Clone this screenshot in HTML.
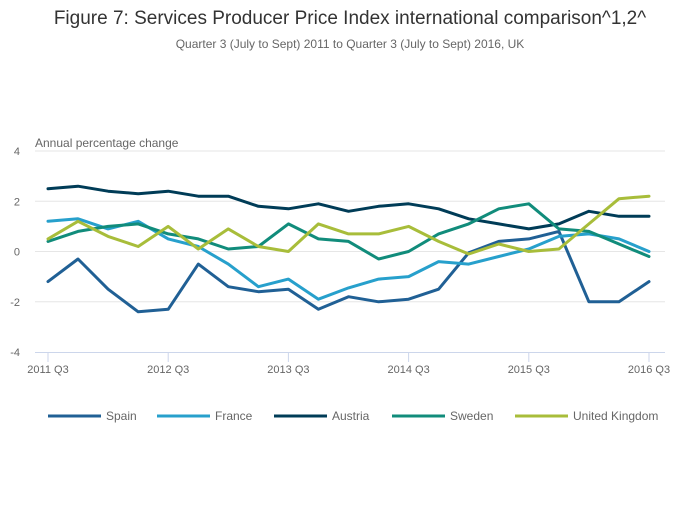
<!DOCTYPE html>
<html><head><meta charset="utf-8"><style>
body{margin:0;background:#fff;font-family:"Liberation Sans",sans-serif}
svg text{font-family:"Liberation Sans",sans-serif}
</style></head><body>
<svg id="chart" width="700" height="502" xmlns="http://www.w3.org/2000/svg">
<text x="350" y="24" text-anchor="middle" font-size="19" fill="#333">Figure 7: Services Producer Price Index international comparison^1,2^</text>
<text x="350" y="48" text-anchor="middle" font-size="12" fill="#666">Quarter 3 (July to Sept) 2011 to Quarter 3 (July to Sept) 2016, UK</text>
<text x="35" y="147" font-size="12" fill="#666">Annual percentage change</text>
<g id="grid"></g><g id="series"></g><g id="legend"></g>
</svg>
<script>
const categories=["2011 Q3","2011 Q4","2012 Q1","2012 Q2","2012 Q3","2012 Q4","2013 Q1","2013 Q2","2013 Q3","2013 Q4","2014 Q1","2014 Q2","2014 Q3","2014 Q4","2015 Q1","2015 Q2","2015 Q3","2015 Q4","2016 Q1","2016 Q2","2016 Q3"];
const xTickLabels=["2011 Q3","2012 Q3","2013 Q3","2014 Q3","2015 Q3","2016 Q3"];
const yTicks=[4,2,0,-2,-4];
const seriesNames=["Spain","France","Austria","Sweden","United Kingdom"];
const spain=[-1.2,-0.3,-1.5,-2.4,-2.3,-0.5,-1.4,-1.6,-1.5,-2.3,-1.8,-2.0,-1.9,-1.5,-0.05,0.4,0.5,0.8,-2.0,-2.0,-1.2];
const france=[1.2,1.3,0.9,1.2,0.5,0.2,-0.5,-1.4,-1.1,-1.9,-1.45,-1.1,-1.0,-0.4,-0.5,-0.2,0.1,0.6,0.7,0.5,0.0];
const austria=[2.5,2.6,2.4,2.3,2.4,2.2,2.2,1.8,1.7,1.9,1.6,1.8,1.9,1.7,1.3,1.1,0.9,1.1,1.6,1.4,1.4];
const sweden=[0.4,0.8,1.0,1.1,0.7,0.5,0.1,0.2,1.1,0.5,0.4,-0.3,0.0,0.7,1.1,1.7,1.9,0.9,0.8,0.3,-0.2];
const uk=[0.5,1.2,0.6,0.2,1.0,0.1,0.9,0.2,0.0,1.1,0.7,0.7,1.0,0.4,-0.1,0.3,0.0,0.1,1.1,2.1,2.2];
const colors=["#206095","#27a0cc","#003c57","#118c7b","#a8bd3a"];
const allSeries=[spain,france,austria,sweden,uk];
const NS="http://www.w3.org/2000/svg";
const x0=48,x1=649,yTop=151,yBot=352;
function xs(i){return x0+i*(x1-x0)/(categories.length-1);}
function ys(v){return yTop+(4-v)*(yBot-yTop)/8;}
function mk(t,a,p){const e=document.createElementNS(NS,t);for(const k in a)e.setAttribute(k,a[k]);p.appendChild(e);return e;}
const grid=document.getElementById('grid');
yTicks.forEach(v=>{
  if(v!==-4){const l=mk('line',{x1:35,x2:665,y1:ys(v),y2:ys(v),stroke:'#e6e6e6','stroke-width':1},grid);
  
  }
  const t=mk('text',{x:20,y:ys(v)+4,'text-anchor':'end','font-size':11,fill:'#666'},grid);
  t.textContent=v;
  
  
});
const ax=mk('line',{x1:35,x2:665,y1:352.5,y2:352.5,stroke:'#ccd6eb','stroke-width':1},grid);


xTickLabels.forEach(lab=>{
  const i=categories.indexOf(lab);
  const tk=mk('line',{x1:xs(i),x2:xs(i),y1:352,y2:362,stroke:'#ccd6eb'},grid);
  
  
  const t=mk('text',{x:xs(i),y:373,'text-anchor':'middle','font-size':11,fill:'#666'},grid);
  t.textContent=lab;
  
  
});
const sg=document.getElementById('series');
allSeries.forEach((s,k)=>{
  const d=s.map((v,i)=>(i?'L':'M')+xs(i).toFixed(1)+' '+ys(v).toFixed(1)).join(' ');
  const p=mk('path',{d:d,fill:'none',stroke:colors[k],'stroke-width':3,'stroke-linejoin':'round','stroke-linecap':'round'},sg);
  
  
});
const lg=document.getElementById('legend');
const lx=[48,157,274,392,515];
seriesNames.forEach((n,k)=>{
  const g=mk('g',{},lg);
  
  
  mk('line',{x1:lx[k],x2:lx[k]+53,y1:416,y2:416,stroke:colors[k],'stroke-width':3},g);
  const t=mk('text',{x:lx[k]+58,y:420,'font-size':12,fill:'#666'},g);
  t.textContent=n;
});
</script>
</body></html>
